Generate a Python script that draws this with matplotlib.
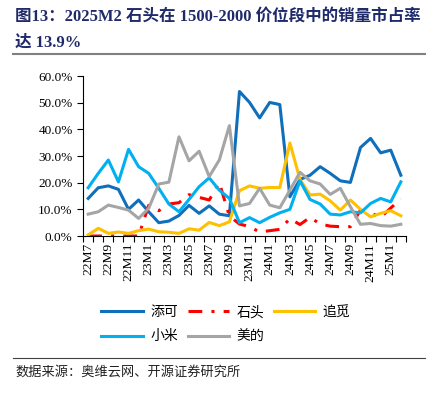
import numpy as np
import matplotlib.pyplot as plt
from matplotlib.lines import Line2D
from matplotlib.ticker import FuncFormatter

plt.rcParams['font.family'] = ['Liberation Serif', 'Noto Sans CJK SC', 'DejaVu Sans']

months = ["22M7", "22M8", "22M9", "22M10", "22M11", "22M12",
          "23M1", "23M2", "23M3", "23M4", "23M5", "23M6", "23M7", "23M8",
          "23M9", "23M10", "23M11", "23M12",
          "24M1", "24M2", "24M3", "24M4", "24M5", "24M6", "24M7", "24M8",
          "24M9", "24M10", "24M11", "24M12",
          "25M1", "25M2"]

tineco = [14.1, 18.1, 18.8, 17.5, 10.0, 13.5, 9.1, 5.0, 5.6, 7.7, 11.5, 8.5,
          11.3, 8.2, 7.6, 54.2, 50.1, 44.3, 50.1, 49.3, 14.7, 21.2, 22.8, 26.0,
          23.5, 20.7, 20.1, 33.2, 36.6, 31.2, 32.2, 22.8]
roborock = [0.0, 0.0, 0.0, 0.0, 0.0, 0.0, 11.5, 9.5, 12.0, 12.5, 15.5, 14.5,
            13.5, 20.0, 7.5, 4.5, 3.5, 1.5, 2.0, 2.5, 6.5, 4.3, 7.0, 4.5,
            3.7, 3.5, 3.5, 9.7, 8.7, 7.0, 10.5, 13.9]
dreame = [0.4, 2.9, 1.0, 1.5, 1.0, 2.0, 2.6, 1.6, 1.4, 1.0, 2.7, 2.2,
          5.1, 3.9, 5.3, 17.0, 18.8, 17.9, 18.2, 18.2, 34.9, 21.2, 15.4, 15.7,
          13.2, 9.7, 13.5, 10.0, 7.2, 8.5, 9.5, 7.6]
xiaomi = [18.1, 23.5, 28.5, 20.3, 32.5, 26.0, 23.5, 17.9, 12.0, 9.1, 13.7, 18.5,
          21.8, 17.2, 14.1, 5.0, 6.9, 5.0, 7.0, 8.7, 10.0, 20.7, 13.7, 12.0,
          8.2, 7.9, 9.1, 8.7, 12.2, 14.1, 12.8, 20.3]
midea = [8.2, 9.1, 11.6, 10.7, 9.7, 6.6, 10.4, 19.5, 20.2, 37.2, 28.2, 31.8,
         22.3, 28.5, 41.4, 11.3, 12.2, 17.9, 11.6, 10.6, 17.2, 23.9, 20.7, 19.5,
         15.6, 17.9, 11.0, 4.4, 4.7, 3.9, 3.7, 4.4]

fig = plt.figure(figsize=(4.47, 3.96), dpi=100)
ax = fig.add_axes([0.186, 0.404, 0.722, 0.404])

x = np.arange(len(months))
lw = 2.2
l1, = ax.plot(x, tineco, color="#0F6FBA", lw=lw, label="添可")
l2, = ax.plot(x, roborock, color="#FF0000", lw=lw, linestyle=(0, (4.5, 3, 1, 3)), label="石头")
l3, = ax.plot(x, dreame, color="#FFC000", lw=lw, label="追觅")
l4, = ax.plot(x, xiaomi, color="#00B0F0", lw=lw, label="小米")
l5, = ax.plot(x, midea, color="#A5A5A5", lw=lw, label="美的")

ax.set_xlim(-0.5, len(months) - 0.5)
ax.set_ylim(0, 60)
ax.set_yticks(np.arange(0, 61, 10))
ax.yaxis.set_major_formatter(FuncFormatter(lambda v, p: f"{v:.1f}%"))
ax.tick_params(axis='y', labelsize=9.5, length=4, width=0.8, direction='out')

ax.set_xticks(np.arange(-0.5, len(months), 1))
ax.set_xticklabels([])
ax.tick_params(axis='x', which='major', length=4, width=0.8, direction='out')
ax.set_xticks(x[::2], minor=True)
ax.set_xticklabels(months[::2], minor=True, rotation=90, fontsize=9.7)
ax.tick_params(axis='x', which='minor', length=0, pad=5)

for s in ['top', 'right']:
    ax.spines[s].set_visible(False)
for s in ['left', 'bottom']:
    ax.spines[s].set_linewidth(0.8)

handles = [l1, l4, l2, l5, l3]
fig.legend(handles=handles, loc='center', bbox_to_anchor=(0.505, 0.18), ncol=3,
           frameon=False, fontsize=10, handlelength=3.0, handletextpad=0.5,
           columnspacing=0.7, labelspacing=0.8)

fig.text(0.034, 0.957, "图13：2025M2 石头在 1500-2000 价位段中的销量市占率",
         fontsize=11.9, fontweight='bold', color="#1F2A6B", va='center')
fig.text(0.034, 0.892, "达 13.9%", fontsize=11.9, fontweight='bold',
         color="#1F2A6B", va='center')
fig.add_artist(Line2D([0.03, 0.951], [0.863, 0.863], color="#808080", lw=1.5))
fig.add_artist(Line2D([0.03, 0.951], [0.096, 0.096], color="#404040", lw=0.8))
fig.text(0.034, 0.06, "数据来源：奥维云网、开源证券研究所", fontsize=9.5,
         color="#222222", va='center')

fig.savefig("out.png", dpi=100)
